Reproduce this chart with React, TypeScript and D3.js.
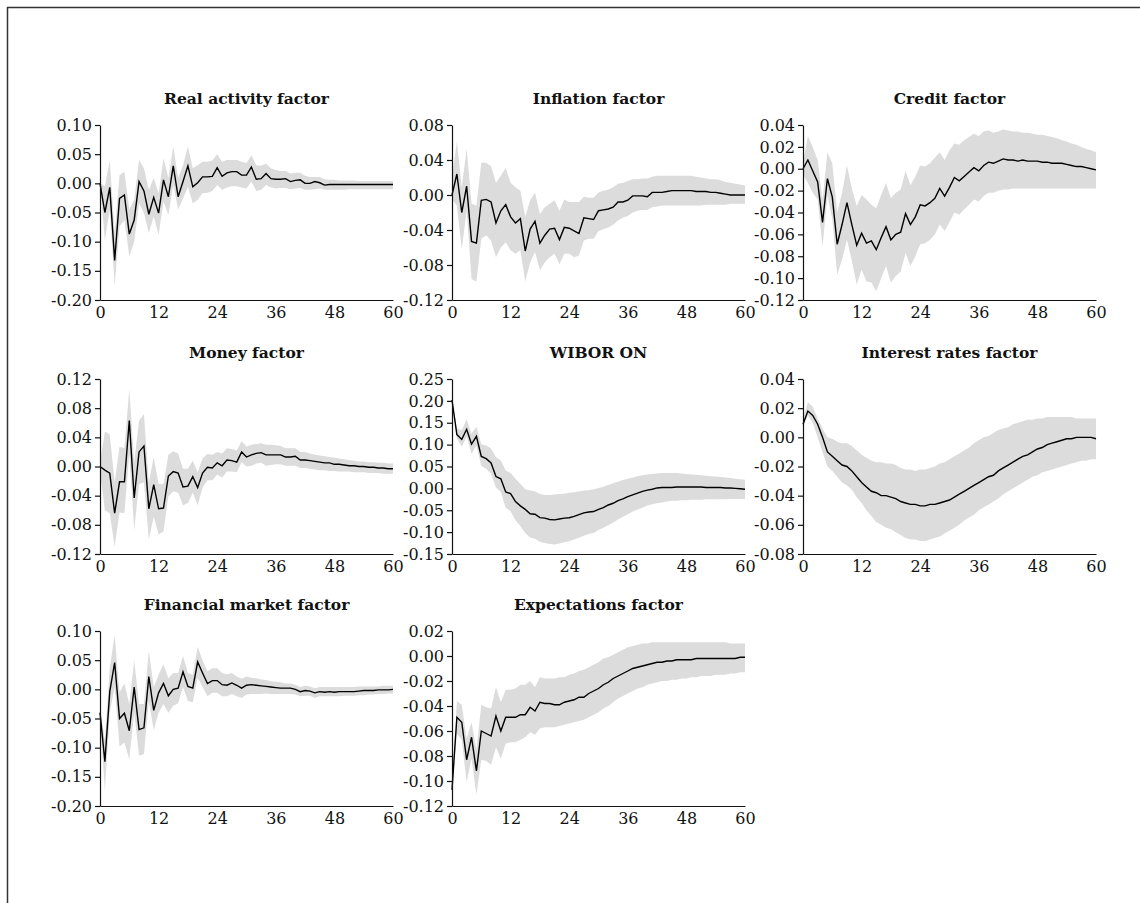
import React, { useEffect, useRef } from 'react'
import * as d3 from 'd3'

const horizons = d3.range(0, 61)
const xTicks = [0, 12, 24, 36, 48, 60]

// Real activity factor
const realMid = [0, -0.05, -0.007, -0.132, -0.026, -0.02, -0.087, -0.063, 0.003, -0.013, -0.053, -0.024, -0.051, 0.006, -0.023, 0.03, -0.023, 0.003, 0.03, -0.006, 0.001, 0.011, 0.011, 0.012, 0.027, 0.012, 0.018, 0.02, 0.02, 0.014, 0.014, 0.028, 0.007, 0.008, 0.017, 0.008, 0.007, 0.007, 0.008, 0.003, 0.005, 0.006, 0.0, 0.0, 0.003, 0.001, -0.003, -0.002, -0.002, -0.002, -0.002, -0.002, -0.002, -0.002, -0.002, -0.002, -0.002, -0.002, -0.002, -0.002, -0.002]
const realHi = [0.0, -0.005, 0.04, -0.085, 0.014, 0.02, -0.045, -0.028, 0.04, 0.026, -0.011, 0.009, -0.017, 0.043, 0.009, 0.063, 0.009, 0.031, 0.063, 0.026, 0.031, 0.037, 0.037, 0.039, 0.05, 0.037, 0.04, 0.04, 0.04, 0.037, 0.035, 0.048, 0.031, 0.03, 0.034, 0.026, 0.023, 0.021, 0.021, 0.017, 0.018, 0.018, 0.013, 0.011, 0.011, 0.011, 0.007, 0.006, 0.006, 0.005, 0.005, 0.005, 0.005, 0.004, 0.004, 0.004, 0.004, 0.004, 0.004, 0.004, 0.004]
const realLo = [0.0, -0.097, -0.045, -0.175, -0.074, -0.063, -0.125, -0.1, -0.034, -0.051, -0.085, -0.057, -0.088, -0.031, -0.054, -0.003, -0.045, -0.026, -0.006, -0.034, -0.028, -0.017, -0.016, -0.013, -0.003, -0.011, -0.007, -0.005, -0.005, -0.007, -0.009, 0.003, -0.013, -0.011, -0.003, -0.007, -0.009, -0.008, -0.008, -0.01, -0.009, -0.008, -0.011, -0.011, -0.01, -0.009, -0.011, -0.011, -0.011, -0.011, -0.011, -0.01, -0.01, -0.01, -0.01, -0.01, -0.01, -0.01, -0.01, -0.01, -0.01]
const realTicks = [0.1, 0.05, 0, -0.05, -0.1, -0.15, -0.2]

// Inflation factor
const inflMid = [0.0, 0.024, -0.02, 0.01, -0.053, -0.055, -0.006, -0.005, -0.008, -0.032, -0.018, -0.011, -0.025, -0.032, -0.027, -0.064, -0.039, -0.03, -0.055, -0.046, -0.039, -0.038, -0.051, -0.037, -0.038, -0.041, -0.044, -0.026, -0.027, -0.028, -0.018, -0.017, -0.016, -0.014, -0.008, -0.008, -0.006, -0.001, -0.001, -0.001, -0.002, 0.003, 0.003, 0.003, 0.004, 0.005, 0.005, 0.005, 0.005, 0.005, 0.004, 0.004, 0.004, 0.003, 0.003, 0.002, 0.001, 0.0, 0.0, 0.0, 0.0]
const inflHi = [0.02, 0.061, 0.009, 0.053, -0.01, -0.012, 0.037, 0.037, 0.033, 0.014, 0.022, 0.031, 0.014, 0.009, 0.005, -0.025, -0.006, 0.003, -0.022, -0.014, -0.01, -0.006, -0.018, -0.005, -0.008, -0.008, -0.008, -0.002, -0.003, -0.003, 0.003, 0.005, 0.006, 0.009, 0.013, 0.014, 0.016, 0.018, 0.018, 0.019, 0.019, 0.021, 0.022, 0.022, 0.022, 0.022, 0.022, 0.022, 0.022, 0.022, 0.021, 0.02, 0.019, 0.018, 0.018, 0.017, 0.015, 0.014, 0.013, 0.012, 0.011]
const inflLo = [-0.005, -0.012, -0.062, -0.018, -0.096, -0.099, -0.05, -0.046, -0.052, -0.071, -0.06, -0.054, -0.063, -0.067, -0.063, -0.099, -0.077, -0.065, -0.086, -0.077, -0.071, -0.067, -0.079, -0.067, -0.067, -0.071, -0.069, -0.052, -0.05, -0.05, -0.041, -0.039, -0.037, -0.034, -0.029, -0.026, -0.024, -0.02, -0.018, -0.017, -0.017, -0.014, -0.013, -0.012, -0.012, -0.012, -0.012, -0.012, -0.012, -0.012, -0.012, -0.012, -0.011, -0.011, -0.011, -0.011, -0.011, -0.01, -0.01, -0.01, -0.01]
const inflTicks = [0.08, 0.04, 0, -0.04, -0.08, -0.12]

// Credit factor
const credMid = [0.0, 0.008, -0.002, -0.012, -0.049, -0.009, -0.026, -0.069, -0.051, -0.031, -0.051, -0.07, -0.059, -0.068, -0.066, -0.074, -0.063, -0.053, -0.065, -0.06, -0.058, -0.041, -0.051, -0.044, -0.033, -0.034, -0.031, -0.027, -0.018, -0.025, -0.017, -0.008, -0.011, -0.007, -0.003, 0.001, -0.002, 0.003, 0.006, 0.005, 0.007, 0.009, 0.008, 0.008, 0.007, 0.008, 0.007, 0.007, 0.007, 0.006, 0.006, 0.005, 0.005, 0.005, 0.004, 0.003, 0.002, 0.002, 0.001, 0.0, -0.001]
const credHi = [0.005, 0.03, 0.02, 0.008, -0.028, 0.015, 0.005, -0.04, -0.022, 0.003, -0.018, -0.034, -0.024, -0.028, -0.033, -0.036, -0.024, -0.013, -0.027, -0.022, -0.019, -0.002, -0.015, -0.007, 0.003, 0.002, 0.005, 0.01, 0.015, 0.008, 0.017, 0.023, 0.022, 0.026, 0.029, 0.032, 0.03, 0.034, 0.035, 0.033, 0.034, 0.036, 0.035, 0.034, 0.034, 0.033, 0.033, 0.032, 0.031, 0.031, 0.03, 0.029, 0.028, 0.026, 0.025, 0.023, 0.022, 0.02, 0.018, 0.017, 0.015]
const credLo = [-0.005, -0.013, -0.022, -0.028, -0.071, -0.025, -0.046, -0.097, -0.083, -0.065, -0.084, -0.106, -0.092, -0.103, -0.104, -0.112, -0.1, -0.089, -0.104, -0.098, -0.094, -0.077, -0.089, -0.08, -0.069, -0.068, -0.065, -0.06, -0.051, -0.057, -0.049, -0.04, -0.042, -0.037, -0.033, -0.028, -0.03, -0.025, -0.022, -0.022, -0.02, -0.019, -0.019, -0.018, -0.018, -0.018, -0.018, -0.018, -0.018, -0.018, -0.018, -0.018, -0.018, -0.018, -0.018, -0.018, -0.018, -0.018, -0.018, -0.018, -0.018]
const credTicks = [0.04, 0.02, 0, -0.02, -0.04, -0.06, -0.08, -0.1, -0.12]

// Money factor
const moneyMid = [0.0, -0.005, -0.009, -0.064, -0.021, -0.021, 0.063, -0.043, 0.02, 0.028, -0.058, -0.025, -0.058, -0.057, -0.013, -0.007, -0.009, -0.028, -0.027, -0.014, -0.029, -0.009, -0.001, -0.002, 0.005, 0.001, 0.009, 0.008, 0.006, 0.02, 0.013, 0.016, 0.018, 0.019, 0.016, 0.016, 0.016, 0.016, 0.013, 0.013, 0.014, 0.009, 0.009, 0.008, 0.007, 0.006, 0.005, 0.005, 0.003, 0.003, 0.002, 0.001, 0.001, 0.0, 0.0, -0.001, -0.001, -0.002, -0.002, -0.003, -0.003]
const moneyHi = [0.005, 0.048, 0.044, -0.022, 0.027, 0.025, 0.106, 0.006, 0.063, 0.072, -0.022, 0.013, -0.024, -0.024, 0.016, 0.021, 0.018, -0.003, -0.003, 0.008, -0.008, 0.011, 0.017, 0.016, 0.02, 0.018, 0.025, 0.024, 0.022, 0.035, 0.027, 0.03, 0.031, 0.032, 0.03, 0.03, 0.029, 0.028, 0.025, 0.025, 0.025, 0.02, 0.02, 0.018, 0.016, 0.015, 0.014, 0.013, 0.012, 0.011, 0.01, 0.009, 0.008, 0.007, 0.007, 0.006, 0.006, 0.005, 0.005, 0.004, 0.004]
const moneyLo = [-0.005, -0.06, -0.064, -0.11, -0.063, -0.064, 0.018, -0.087, -0.024, -0.022, -0.1, -0.069, -0.093, -0.089, -0.041, -0.034, -0.036, -0.053, -0.05, -0.036, -0.053, -0.029, -0.019, -0.019, -0.011, -0.015, -0.007, -0.007, -0.008, 0.006, 0.0, 0.001, 0.004, 0.005, 0.001, 0.002, 0.003, 0.003, 0.001, 0.001, 0.001, -0.002, -0.002, -0.003, -0.004, -0.005, -0.005, -0.006, -0.006, -0.007, -0.007, -0.007, -0.008, -0.008, -0.008, -0.009, -0.009, -0.009, -0.01, -0.01, -0.01]
const moneyTicks = [0.12, 0.08, 0.04, 0, -0.04, -0.08, -0.12]

// WIBOR ON
const wiborMid = [0.202, 0.123, 0.112, 0.135, 0.101, 0.119, 0.073, 0.068, 0.058, 0.027, 0.022, -0.008, -0.012, -0.03, -0.04, -0.048, -0.058, -0.059, -0.067, -0.068, -0.071, -0.072, -0.07, -0.068, -0.067, -0.064, -0.06, -0.056, -0.054, -0.053, -0.048, -0.044, -0.038, -0.034, -0.028, -0.024, -0.019, -0.015, -0.011, -0.007, -0.004, -0.002, 0.001, 0.002, 0.002, 0.002, 0.003, 0.003, 0.003, 0.003, 0.003, 0.003, 0.002, 0.002, 0.002, 0.002, 0.001, 0.001, 0.0, -0.001, -0.002]
const wiborHi = [0.202, 0.137, 0.133, 0.158, 0.125, 0.141, 0.101, 0.098, 0.091, 0.072, 0.064, 0.041, 0.035, 0.022, 0.01, -0.002, -0.005, -0.007, -0.013, -0.015, -0.015, -0.014, -0.013, -0.012, -0.01, -0.009, -0.007, -0.005, -0.004, -0.002, 0.001, 0.004, 0.008, 0.012, 0.015, 0.019, 0.022, 0.025, 0.028, 0.03, 0.032, 0.033, 0.034, 0.035, 0.035, 0.035, 0.035, 0.034, 0.033, 0.032, 0.031, 0.03, 0.029, 0.028, 0.027, 0.026, 0.025, 0.024, 0.022, 0.021, 0.02]
const wiborLo = [0.202, 0.114, 0.095, 0.118, 0.079, 0.098, 0.052, 0.045, 0.033, 0.002, -0.009, -0.044, -0.052, -0.073, -0.086, -0.102, -0.112, -0.115, -0.122, -0.125, -0.127, -0.128, -0.126, -0.123, -0.121, -0.117, -0.113, -0.108, -0.104, -0.102, -0.095, -0.09, -0.084, -0.078, -0.071, -0.065, -0.059, -0.053, -0.048, -0.044, -0.039, -0.036, -0.034, -0.032, -0.03, -0.028, -0.028, -0.027, -0.027, -0.026, -0.026, -0.026, -0.025, -0.025, -0.025, -0.025, -0.025, -0.024, -0.024, -0.024, -0.024]
const wiborTicks = [0.25, 0.2, 0.15, 0.1, 0.05, 0, -0.05, -0.1, -0.15]

// Interest rates factor
const rateMid = [0.009, 0.018, 0.015, 0.009, 0.0, -0.01, -0.013, -0.016, -0.019, -0.02, -0.023, -0.027, -0.031, -0.034, -0.037, -0.038, -0.04, -0.04, -0.041, -0.042, -0.044, -0.045, -0.046, -0.046, -0.047, -0.047, -0.046, -0.046, -0.045, -0.044, -0.043, -0.041, -0.039, -0.037, -0.035, -0.033, -0.031, -0.029, -0.027, -0.026, -0.023, -0.021, -0.019, -0.017, -0.015, -0.013, -0.012, -0.01, -0.008, -0.007, -0.005, -0.004, -0.003, -0.002, -0.001, -0.001, 0.0, 0.0, 0.0, 0.0, -0.001]
const rateHi = [0.013, 0.024, 0.021, 0.013, 0.006, 0.0, -0.001, -0.003, -0.004, -0.004, -0.006, -0.009, -0.012, -0.014, -0.016, -0.017, -0.017, -0.018, -0.018, -0.019, -0.021, -0.022, -0.022, -0.023, -0.022, -0.022, -0.021, -0.02, -0.018, -0.017, -0.015, -0.013, -0.011, -0.009, -0.007, -0.004, -0.002, 0.0, 0.001, 0.003, 0.005, 0.006, 0.007, 0.009, 0.01, 0.011, 0.012, 0.012, 0.013, 0.013, 0.014, 0.014, 0.014, 0.014, 0.014, 0.014, 0.013, 0.013, 0.013, 0.013, 0.013]
const rateLo = [0.007, 0.015, 0.01, 0.0, -0.01, -0.02, -0.023, -0.027, -0.031, -0.033, -0.036, -0.041, -0.045, -0.05, -0.054, -0.058, -0.06, -0.062, -0.063, -0.065, -0.067, -0.069, -0.07, -0.07, -0.071, -0.071, -0.07, -0.069, -0.068, -0.066, -0.064, -0.062, -0.06, -0.057, -0.055, -0.053, -0.05, -0.048, -0.046, -0.044, -0.042, -0.039, -0.037, -0.035, -0.033, -0.031, -0.029, -0.027, -0.026, -0.024, -0.023, -0.022, -0.021, -0.02, -0.019, -0.018, -0.017, -0.016, -0.016, -0.015, -0.015]
const rateTicks = [0.04, 0.02, 0, -0.02, -0.04, -0.06, -0.08]

// Financial market factor
const finMid = [-0.04, -0.124, -0.004, 0.046, -0.05, -0.041, -0.071, 0.004, -0.069, -0.066, 0.022, -0.036, -0.006, 0.01, -0.011, 0.0, 0.002, 0.03, 0.005, 0.002, 0.047, 0.028, 0.01, 0.015, 0.015, 0.008, 0.007, 0.011, 0.007, 0.002, 0.007, 0.008, 0.007, 0.006, 0.005, 0.004, 0.003, 0.002, 0.002, 0.002, 0.0, -0.004, -0.002, -0.003, -0.006, -0.004, -0.005, -0.004, -0.005, -0.004, -0.004, -0.004, -0.004, -0.003, -0.002, -0.002, -0.002, -0.001, -0.001, -0.001, 0.0]
const finHi = [-0.03, -0.088, 0.037, 0.093, -0.005, 0.01, -0.025, 0.05, -0.025, -0.025, 0.066, 0.004, 0.025, 0.043, 0.019, 0.028, 0.028, 0.057, 0.028, 0.025, 0.073, 0.05, 0.031, 0.036, 0.036, 0.028, 0.026, 0.028, 0.022, 0.018, 0.022, 0.02, 0.019, 0.017, 0.016, 0.014, 0.013, 0.012, 0.01, 0.01, 0.008, 0.004, 0.006, 0.005, 0.002, 0.004, 0.004, 0.004, 0.004, 0.004, 0.004, 0.004, 0.004, 0.005, 0.005, 0.005, 0.005, 0.005, 0.006, 0.006, 0.006]
const finLo = [-0.05, -0.173, -0.04, 0.004, -0.098, -0.091, -0.12, -0.04, -0.114, -0.111, -0.02, -0.07, -0.04, -0.025, -0.04, -0.028, -0.024, 0.004, -0.02, -0.022, 0.02, 0.004, -0.012, -0.006, -0.006, -0.012, -0.012, -0.008, -0.012, -0.015, -0.009, -0.008, -0.008, -0.008, -0.007, -0.008, -0.008, -0.008, -0.008, -0.008, -0.009, -0.012, -0.011, -0.011, -0.015, -0.012, -0.012, -0.012, -0.012, -0.012, -0.011, -0.011, -0.011, -0.01, -0.01, -0.009, -0.009, -0.008, -0.008, -0.007, -0.007]
const finTicks = [0.1, 0.05, 0, -0.05, -0.1, -0.15, -0.2]

// Expectations factor
const expMid = [-0.107, -0.049, -0.053, -0.083, -0.065, -0.092, -0.06, -0.062, -0.064, -0.048, -0.06, -0.049, -0.049, -0.049, -0.047, -0.047, -0.041, -0.044, -0.037, -0.038, -0.038, -0.039, -0.039, -0.037, -0.036, -0.035, -0.033, -0.033, -0.03, -0.028, -0.026, -0.023, -0.021, -0.018, -0.016, -0.014, -0.012, -0.01, -0.009, -0.008, -0.007, -0.006, -0.005, -0.005, -0.004, -0.004, -0.003, -0.003, -0.003, -0.003, -0.002, -0.002, -0.002, -0.002, -0.002, -0.002, -0.002, -0.002, -0.002, -0.001, -0.001]
const expHi = [-0.107, -0.036, -0.039, -0.066, -0.053, -0.075, -0.039, -0.041, -0.042, -0.025, -0.037, -0.027, -0.027, -0.026, -0.023, -0.023, -0.02, -0.025, -0.017, -0.018, -0.018, -0.018, -0.017, -0.017, -0.015, -0.014, -0.012, -0.011, -0.009, -0.007, -0.005, -0.002, -0.001, 0.001, 0.003, 0.005, 0.007, 0.008, 0.009, 0.01, 0.01, 0.011, 0.011, 0.011, 0.011, 0.011, 0.011, 0.011, 0.011, 0.011, 0.011, 0.011, 0.011, 0.011, 0.011, 0.011, 0.011, 0.01, 0.01, 0.01, 0.01]
const expLo = [-0.107, -0.062, -0.067, -0.101, -0.082, -0.111, -0.083, -0.084, -0.087, -0.073, -0.082, -0.07, -0.069, -0.069, -0.067, -0.065, -0.061, -0.063, -0.058, -0.057, -0.057, -0.057, -0.056, -0.055, -0.054, -0.053, -0.052, -0.051, -0.049, -0.047, -0.045, -0.042, -0.04, -0.037, -0.034, -0.032, -0.03, -0.028, -0.026, -0.025, -0.023, -0.022, -0.021, -0.02, -0.02, -0.019, -0.019, -0.018, -0.018, -0.017, -0.017, -0.016, -0.016, -0.016, -0.015, -0.015, -0.015, -0.014, -0.014, -0.013, -0.013]
const expTicks = [0.02, 0, -0.02, -0.04, -0.06, -0.08, -0.1, -0.12]

const panels = [
  { title: 'Real activity factor', mid: realMid, lo: realLo, hi: realHi, ticks: realTicks },
  { title: 'Inflation factor', mid: inflMid, lo: inflLo, hi: inflHi, ticks: inflTicks },
  { title: 'Credit factor', mid: credMid, lo: credLo, hi: credHi, ticks: credTicks },
  { title: 'Money factor', mid: moneyMid, lo: moneyLo, hi: moneyHi, ticks: moneyTicks },
  { title: 'WIBOR ON', mid: wiborMid, lo: wiborLo, hi: wiborHi, ticks: wiborTicks },
  { title: 'Interest rates factor', mid: rateMid, lo: rateLo, hi: rateHi, ticks: rateTicks },
  { title: 'Financial market factor', mid: finMid, lo: finLo, hi: finHi, ticks: finTicks },
  { title: 'Expectations factor', mid: expMid, lo: expLo, hi: expHi, ticks: expTicks },
]

const FONT = '"DejaVu Serif", serif'
const colLeft = [100, 452, 803]
const rowTop = [125, 379, 631]
const plotW = 293
const plotH = 175

function Panel({ p, left, top }) {
  const xRef = useRef(null)
  const yRef = useRef(null)
  const x = d3.scaleLinear().domain([0, 60]).range([0, plotW])
  const y = d3.scaleLinear().domain([d3.min(p.ticks), d3.max(p.ticks)]).range([plotH, 0])

  useEffect(() => {
    const xg = d3.select(xRef.current)
    xg.selectAll('*').remove()
    xg.call(d3.axisBottom(x).tickValues(xTicks).tickFormat(d3.format('d')).tickSize(0).tickPadding(7))
    xg.attr('font-size', null).attr('font-family', null)
    xg.select('.domain').attr('stroke', '#111').attr('stroke-width', 1.2)
    xg.selectAll('text').attr('fill', '#111')

    const yg = d3.select(yRef.current)
    yg.selectAll('*').remove()
    yg.call(
      d3
        .axisLeft(y)
        .tickValues(p.ticks)
        .tickFormat((d) => (+d).toFixed(2))
        .tickSize(5)
        .tickSizeOuter(0)
        .tickPadding(3)
    )
    yg.attr('font-size', null).attr('font-family', null)
    yg.select('.domain').attr('stroke', '#111').attr('stroke-width', 1.2)
    yg.selectAll('line').attr('stroke', '#111').attr('stroke-width', 1.2)
    yg.selectAll('text').attr('fill', '#111')
  }, [])

  const band = d3
    .area()
    .x((d, i) => x(horizons[i]))
    .y0((d, i) => y(p.lo[i]))
    .y1((d, i) => y(p.hi[i]))
  const line = d3
    .line()
    .x((d, i) => x(horizons[i]))
    .y((d) => y(d))

  return (
    <g transform={`translate(${left}, ${top})`}>
      <text x={plotW / 2} y={-21} textAnchor="middle" fontWeight="bold" fontSize={15.5} fill="#111">
        {p.title}
      </text>
      <path d={band(p.mid)} fill="#dcdcdc" stroke="none" />
      <path d={line(p.mid)} fill="none" stroke="#000" strokeWidth={1.4} strokeLinejoin="miter" />
      <g ref={yRef} />
      <g ref={xRef} transform={`translate(0, ${plotH})`} />
    </g>
  )
}

export default function App() {
  return (
    <svg
      width={1140}
      height={903}
      style={{ position: 'absolute', left: 0, top: 0, background: '#fff' }}
      fontFamily={FONT}
      fontSize={16}
    >
      <rect x={0} y={0} width={1140} height={903} fill="#fff" />
      <line x1={7} y1={7.5} x2={1140} y2={7.5} stroke="#333" strokeWidth={1.5} />
      <line x1={7.5} y1={7} x2={7.5} y2={903} stroke="#333" strokeWidth={1.5} />
      {panels.map((p, i) => (
        <Panel key={p.title} p={p} left={colLeft[i % 3]} top={rowTop[Math.floor(i / 3)]} />
      ))}
    </svg>
  )
}
